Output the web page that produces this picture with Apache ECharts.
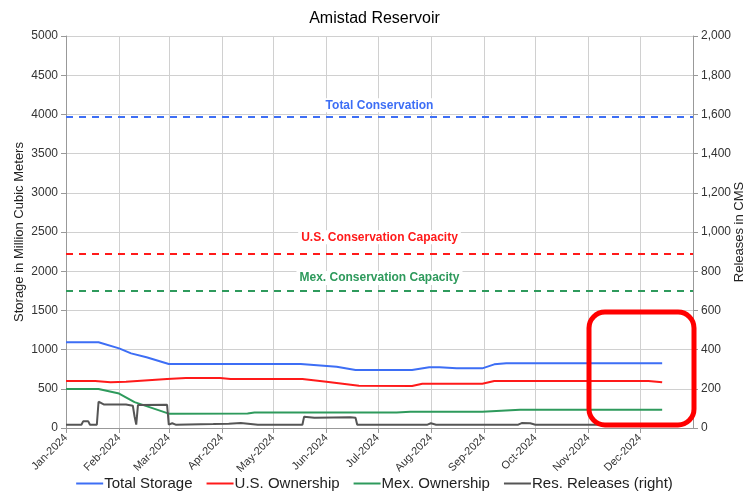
<!DOCTYPE html>
<html>
<head>
<meta charset="utf-8">
<script src="https://cdn.jsdelivr.net/npm/echarts@6/dist/echarts.min.js"></script>
<style>
  html, body { margin: 0; padding: 0; background: #fff; }
  #chart { width: 749px; height: 496px; }
</style>
</head>
<body>
<div id="chart"></div>
<script>
// storage series (million cubic meters) at turning points
const storageDates = ['2024-01-01', '2024-01-20', '2024-02-01', '2024-02-08', '2024-02-17', '2024-03-01', '2024-05-17', '2024-06-07', '2024-06-18', '2024-07-21', '2024-07-31', '2024-08-06', '2024-08-16', '2024-08-31', '2024-09-07', '2024-09-14', '2024-12-14'];
const totalStorage = [1093, 1093, 1016, 952, 902, 816, 816, 782, 740, 740, 774, 774, 761, 761, 812, 825, 825];

const usDates = ['2024-01-01', '2024-01-18', '2024-01-27', '2024-02-05', '2024-02-29', '2024-03-11', '2024-03-31', '2024-04-06', '2024-05-18', '2024-06-01', '2024-06-20', '2024-07-21', '2024-07-27', '2024-08-31', '2024-09-07', '2024-12-06', '2024-12-14'];
const usOwnership = [600, 600, 583, 590, 625, 638, 638, 625, 625, 591, 540, 536, 565, 565, 600, 600, 583];

const mexDates = ['2024-01-01', '2024-01-20', '2024-02-01', '2024-02-10', '2024-03-01', '2024-04-16', '2024-04-20', '2024-07-12', '2024-07-20', '2024-08-31', '2024-09-22', '2024-12-14'];
const mexOwnership = [497, 497, 440, 330, 183, 185, 197, 197, 207, 207, 232, 232];

// releases (CMS, right axis)
const relDates = ['2024-01-01', '2024-01-10', '2024-01-11', '2024-01-14', '2024-01-15', '2024-01-19', '2024-01-20', '2024-01-23', '2024-02-05', '2024-02-09', '2024-02-10', '2024-02-11', '2024-02-12', '2024-02-13', '2024-02-29', '2024-03-01', '2024-03-03', '2024-03-05', '2024-03-27', '2024-04-05', '2024-04-12', '2024-04-22', '2024-05-18', '2024-05-19', '2024-05-25', '2024-06-05', '2024-06-15', '2024-06-18', '2024-06-19', '2024-07-30', '2024-08-01', '2024-08-04', '2024-09-21', '2024-09-23', '2024-09-28', '2024-10-01', '2024-12-14'];
const releases = [17, 17, 34, 34, 17, 17, 134, 120, 120, 114, 60, 17, 117, 119, 118, 17, 24, 17, 20, 22, 26, 17, 17, 58, 52, 54, 55, 52, 17, 17, 24, 17, 17, 25, 24, 17, 17];

// reference levels
const totalConservation = 3975;
const usConservation = 2228;
const mexConservation = 1747;

const monthNames = ['Jan', 'Feb', 'Mar', 'Apr', 'May', 'Jun', 'Jul', 'Aug', 'Sep', 'Oct', 'Nov', 'Dec'];

const zip = (d, v) => d.map((x, i) => [x, v[i]]);

const blue = '#3d6ef5';
const red = '#ff1a1a';
const green = '#2e9a5c';
const gray = '#555555';

function refLine(value, text, color, dist) {
  return {
    silent: true,
    symbol: 'none',
    lineStyle: { type: [7, 6], width: 2, color: color },
    label: {
      show: true,
      position: 'middle',
      distance: dist,
      formatter: text,
      color: color,
      fontWeight: 'bold',
      fontSize: 12,
      backgroundColor: '#fff',
      padding: [1, 3]
    },
    data: [{ yAxis: value }]
  };
}

const chart = echarts.init(document.getElementById('chart'));
chart.setOption({
  animation: false,
  textStyle: { fontFamily: 'Liberation Sans, Arial, sans-serif' },
  title: {
    text: 'Amistad Reservoir',
    left: 'center',
    top: 6,
    textStyle: { fontSize: 16, fontWeight: 'normal', color: '#000' }
  },
  legend: {
    bottom: 0,
    left: 'center',
    icon: 'rect',
    itemWidth: 27,
    itemHeight: 2,
    itemGap: 14,
    textStyle: { fontSize: 15, color: '#222', padding: [0, 0, 0, -4] },
    data: ['Total Storage', 'U.S. Ownership', 'Mex. Ownership', 'Res. Releases (right)']
  },
  grid: { left: 66, right: 56, top: 36, bottom: 68, containLabel: false, outerBoundsMode: 'none' },
  xAxis: {
    type: 'time',
    min: '2024-01-01',
    max: '2025-01-01',
    splitNumber: 12,
    axisLine: { lineStyle: { color: '#999' } },
    axisTick: { show: true, lineStyle: { color: '#999' } },
    splitLine: { show: true, lineStyle: { color: '#d0d0d0' } },
    axisLabel: {
      rotate: 45,
      fontSize: 11,
      color: '#333',
      showMaxLabel: false,
      formatter: function (v) {
        const d = new Date(v);
        return monthNames[d.getMonth()] + '-' + d.getFullYear();
      }
    }
  },
  yAxis: [
    {
      type: 'value',
      min: 0,
      max: 5000,
      interval: 500,
      name: 'Storage in Million Cubic Meters',
      nameLocation: 'middle',
      nameGap: 40,
      nameMoveOverlap: false,
      nameTextStyle: { fontSize: 13, color: '#222' },
      axisLine: { show: true, lineStyle: { color: '#999' } },
      axisTick: { show: true, lineStyle: { color: '#999' } },
      splitLine: { lineStyle: { color: '#d0d0d0' } },
      axisLabel: { fontSize: 12, color: '#333', formatter: v => String(v) }
    },
    {
      type: 'value',
      min: 0,
      max: 2000,
      interval: 200,
      name: 'Releases in CMS',
      nameLocation: 'middle',
      nameGap: 40,
      nameMoveOverlap: false,
      nameTextStyle: { fontSize: 13, color: '#222' },
      axisLine: { show: true, lineStyle: { color: '#999' } },
      axisTick: { show: true, lineStyle: { color: '#999' } },
      splitLine: { show: false },
      axisLabel: {
        fontSize: 12,
        color: '#333',
        formatter: v => v.toLocaleString('en-US')
      }
    }
  ],
  series: [
    {
      name: 'Total Storage',
      type: 'line',
      symbol: 'none',
      color: blue,
      lineStyle: { width: 2 },
      data: zip(storageDates, totalStorage),
      markLine: refLine(totalConservation, 'Total Conservation', blue, 4)
    },
    {
      name: 'U.S. Ownership',
      type: 'line',
      symbol: 'none',
      color: red,
      lineStyle: { width: 2 },
      data: zip(usDates, usOwnership),
      markLine: refLine(usConservation, 'U.S. Conservation Capacity', red, 9)
    },
    {
      name: 'Mex. Ownership',
      type: 'line',
      symbol: 'none',
      color: green,
      lineStyle: { width: 2 },
      data: zip(mexDates, mexOwnership),
      markLine: refLine(mexConservation, 'Mex. Conservation Capacity', green, 6)
    },
    {
      name: 'Res. Releases (right)',
      type: 'line',
      yAxisIndex: 1,
      symbol: 'none',
      color: gray,
      lineStyle: { width: 2 },
      data: zip(relDates, releases)
    }
  ],
  graphic: [
    {
      type: 'rect',
      z: 100,
      shape: { x: 589, y: 312, width: 105, height: 113, r: 16 },
      style: { fill: 'none', stroke: '#ff0000', lineWidth: 5 }
    }
  ]
});
</script>
</body>
</html>
